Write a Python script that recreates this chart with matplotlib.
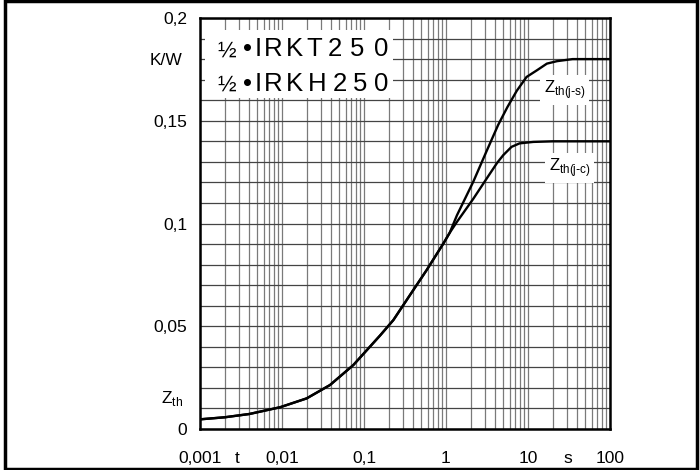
import numpy as np
import matplotlib.pyplot as plt
from matplotlib.patches import Rectangle
from matplotlib.ticker import LogLocator, FixedLocator, NullFormatter
from matplotlib.transforms import blended_transform_factory

plt.rcParams["font.family"] = ["Liberation Sans", "DejaVu Sans"]

# --- data ---
# common part of both curves (they coincide up to about 1 s)
t_common = [0.001, 0.002, 0.004, 0.0095, 0.02, 0.0385, 0.074, 0.157, 0.228,
            0.364, 0.58, 0.93, 1.11]
z_common = [0.0047, 0.0057, 0.0073, 0.0106, 0.0149, 0.0214, 0.0311, 0.0455, 0.053,
            0.0652, 0.0773, 0.0903, 0.0955]

# junction to sink
t_js_tail = [1.36, 2.15, 3.1, 4.33, 5.6, 7.3, 9.6, 12.9, 17, 22.6, 35, 100]
z_js_tail = [0.104, 0.1203, 0.1349, 0.148, 0.1566, 0.1646, 0.1713, 0.1746, 0.1778,
             0.179, 0.180, 0.180]

# junction to case
t_jc_tail = [1.36, 2.15, 3.45, 4.2, 5.0, 6.3, 7.9, 11.6, 20, 100]
z_jc_tail = [0.1008, 0.112, 0.1244, 0.1295, 0.1333, 0.1373, 0.139, 0.1397, 0.140, 0.140]

x_ticks = [0.001, 0.01, 0.1, 1, 10, 100]
x_labels = ["0,001", "0,01", "0,1", "1", "10", "100"]
y_ticks = [0, 0.05, 0.1, 0.15, 0.2]
y_labels = ["0", "0,05", "0,1", "0,15", "0,2"]

title_1 = "½•IRKT250"
title_2 = "½•IRKH250"

fig = plt.figure(figsize=(7, 4.7), dpi=100)
ax = fig.add_axes([200 / 700, 41 / 470, 410 / 700, 411 / 470])

# outer frame
fig.patches.append(Rectangle((0.007, 0.003), 0.989, 0.994, transform=fig.transFigure,
                             fill=False, edgecolor="black", linewidth=2.5))

ax.set_xscale("log")
ax.set_xlim(0.001, 100)
ax.set_ylim(0, 0.2)

ax.xaxis.set_major_locator(FixedLocator(x_ticks))
ax.xaxis.set_minor_locator(LogLocator(base=10, subs=np.arange(2, 10)))
ax.xaxis.set_minor_formatter(NullFormatter())
ax.set_xticklabels(x_labels)
ax.yaxis.set_major_locator(FixedLocator(y_ticks))
ax.yaxis.set_minor_locator(FixedLocator(np.arange(0, 0.2001, 0.01)))
ax.set_yticklabels(y_labels)

ax.grid(which="both", axis="x", color="#7a7a7a", linewidth=0.9)
ax.grid(which="both", axis="y", color="#444444", linewidth=0.9)
ax.set_axisbelow(True)
ax.tick_params(which="both", length=0, labelsize=12.5)
ax.tick_params(axis="y", pad=9)
ax.tick_params(axis="x", pad=16)
for s in ax.spines.values():
    s.set_linewidth(1.8)

ax.plot(t_common + t_jc_tail, z_common + z_jc_tail, color="black", linewidth=1.7)
ax.plot(t_common + t_js_tail, z_common + z_js_tail, color="black", linewidth=1.7)

# axis unit labels
ytr = ax.get_yaxis_transform()
xtr = ax.get_xaxis_transform()
ax.text(-0.044, 0.1795, "K/W", transform=ytr, ha="right", va="center", fontsize=12.5)
ax.text(-0.041, 0.015, "Z$_\\mathregular{th}$", transform=ytr, ha="right",
        va="center", fontsize=12.5)
ax.text(0.00283, -0.0827, "t", transform=xtr, ha="center", va="baseline", fontsize=12.5)
ax.text(30.8, -0.0827, "s", transform=xtr, ha="center", va="baseline", fontsize=12.5)

# title box with widely spaced letters
btr = blended_transform_factory(ax.transAxes, ax.transData)
ax.add_patch(Rectangle((5 / 410, 0.161), 188 / 410, 0.033, transform=btr,
                       facecolor="white", edgecolor="none", zorder=2))
centers_1 = [227, 248, 258, 273, 294, 314, 335, 357, 381]
centers_2 = [227, 248, 258, 273, 294, 317, 340, 360, 381]
for txt, centers, base in [(title_1, centers_1, 0.1814), (title_2, centers_2, 0.1645)]:
    for ch, cx in zip(txt, centers):
        size = 16 if ch == "½" else 18.5
        ax.text((cx - 200) / 410, base, ch, transform=btr, fontsize=size,
                ha="center", va="baseline", zorder=3)

box = dict(facecolor="white", edgecolor="none", pad=2.5)
ax.text(28, 0.165, "Z$_\\mathregular{th(j\\text{-}s)}$", fontsize=12, ha="center",
        va="center", bbox=box, zorder=3)
ax.text(32, 0.127, "Z$_\\mathregular{th(j\\text{-}c)}$", fontsize=12, ha="center",
        va="center", bbox=box, zorder=3)

fig.savefig("out.png", dpi=100)
